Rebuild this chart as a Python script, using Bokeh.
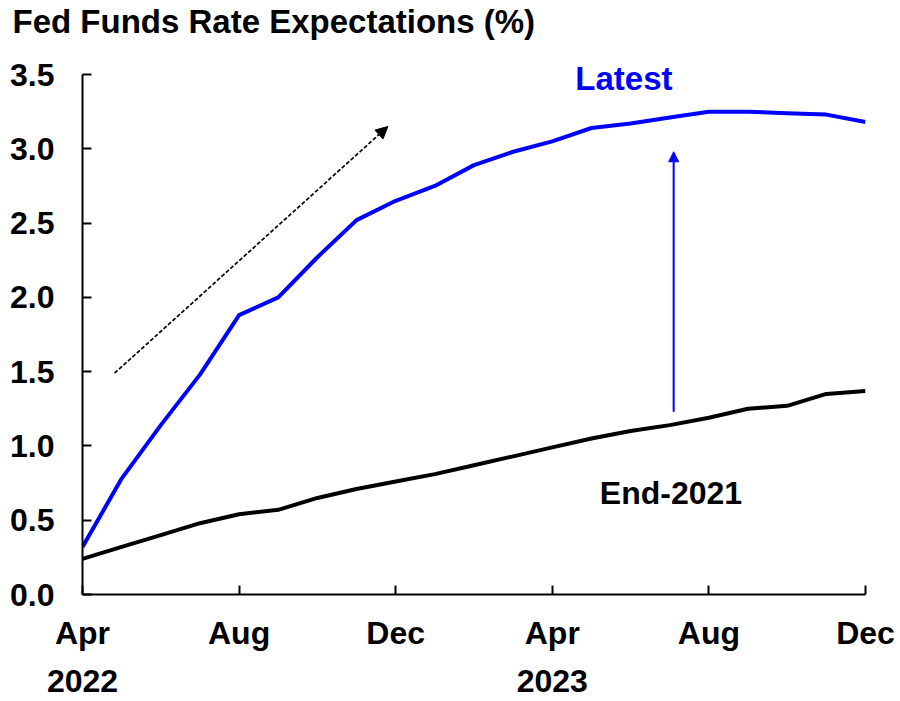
from bokeh.plotting import figure
from bokeh.models import Range1d, LinearAxis, FixedTicker, Label, Arrow, NormalHead
from bokeh.embed import file_html
from bokeh.resources import INLINE

# ---- data ----
months = ["Apr 2022", "May 2022", "Jun 2022", "Jul 2022", "Aug 2022", "Sep 2022", "Oct 2022",
          "Nov 2022", "Dec 2022", "Jan 2023", "Feb 2023", "Mar 2023", "Apr 2023", "May 2023",
          "Jun 2023", "Jul 2023", "Aug 2023", "Sep 2023", "Oct 2023", "Nov 2023", "Dec 2023"]
latest = [0.32, 0.78, 1.14, 1.48, 1.88, 2.00, 2.27, 2.52, 2.65, 2.75, 2.89, 2.98, 3.05, 3.14,
          3.17, 3.21, 3.25, 3.25, 3.24, 3.23, 3.18]
end2021 = [0.24, 0.32, 0.40, 0.48, 0.54, 0.57, 0.65, 0.71, 0.76, 0.81, 0.87, 0.93, 0.99, 1.05,
           1.10, 1.14, 1.19, 1.25, 1.27, 1.35, 1.37]
month_ticks = [0, 4, 8, 12, 16, 20]
month_labels = ["Apr", "Aug", "Dec", "Apr", "Aug", "Dec"]
year_ticks = [0, 12]
year_labels = ["2022", "2023"]
y_ticks = [0.0, 0.5, 1.0, 1.5, 2.0, 2.5, 3.0, 3.5]
title_text = "Fed Funds Rate Expectations (%)"
# annotation anchors (data units)
dash_arrow = (0.82, 1.49, 7.8, 3.15)
blue_arrow = (15.1, 1.23, 15.1, 2.98)
latest_label = (13.83, 3.47, "Latest")
end_label = (15.03, 0.68, "End-2021")

FONT = "Liberation Sans"
x = list(range(len(months)))

p = figure(frame_width=783, frame_height=551, output_backend="svg", toolbar_location=None,
           x_range=Range1d(0, 20), y_range=Range1d(0, 3.7087),
           min_border_left=82, min_border_right=31, min_border_top=43, min_border_bottom=105)
p.outline_line_color = None
p.xgrid.visible = False
p.ygrid.visible = False

p.title.text = title_text
p.title.text_font = FONT
p.title.text_font_size = "33px"
p.title.text_font_style = "bold"
p.title.text_color = "black"
p.title.offset = -70
p.title.vertical_align = "top"
p.title.standoff = 4

p.line(x, latest, line_color="#0000FF", line_width=4)
p.line(x, end2021, line_color="black", line_width=4)

# axes
p.xaxis.ticker = FixedTicker(ticks=month_ticks)
p.xaxis.major_label_overrides = {t: l for t, l in zip(month_ticks, month_labels)}
p.yaxis.ticker = FixedTicker(ticks=y_ticks)
p.yaxis.major_label_overrides = {t: f"{t:.1f}" for t in y_ticks}
p.yaxis.bounds = (0, 3.5)
for ax in (p.xaxis[0], p.yaxis[0]):
    ax.axis_line_width = 2
    ax.axis_line_color = "black"
    ax.major_tick_line_width = 2
    ax.major_tick_line_color = "black"
    ax.major_tick_in = 9
    ax.major_tick_out = 0
    ax.minor_tick_line_color = None
    ax.major_label_text_font = FONT
    ax.major_label_text_font_size = "32px"
    ax.major_label_text_font_style = "bold"
    ax.major_label_text_color = "black"
p.yaxis.major_label_standoff = 28
p.xaxis.major_label_standoff = 20

yax = LinearAxis(ticker=FixedTicker(ticks=year_ticks),
                 major_label_overrides={t: l for t, l in zip(year_ticks, year_labels)})
yax.axis_line_color = None
yax.major_tick_line_color = None
yax.minor_tick_line_color = None
yax.major_label_text_font = FONT
yax.major_label_text_font_size = "32px"
yax.major_label_text_font_style = "bold"
yax.major_label_text_color = "black"
yax.major_label_standoff = 10
p.add_layout(yax, "below")

p.add_layout(Arrow(x_start=dash_arrow[0], y_start=dash_arrow[1], x_end=dash_arrow[2], y_end=dash_arrow[3],
                   line_color="black", line_width=1.7, line_dash="4 2",
                   end=NormalHead(size=12, fill_color="black", line_color="black", line_width=1)))
p.add_layout(Arrow(x_start=blue_arrow[0], y_start=blue_arrow[1], x_end=blue_arrow[2], y_end=blue_arrow[3],
                   line_color="#0000FF", line_width=2,
                   end=NormalHead(size=10, fill_color="#0000FF", line_color="#0000FF", line_width=1)))

p.add_layout(Label(x=latest_label[0], y=latest_label[1], text=latest_label[2], text_align="center",
                   text_baseline="middle", text_font=FONT, text_font_size="33px",
                   text_font_style="bold", text_color="#0000FF"))
p.add_layout(Label(x=end_label[0], y=end_label[1], text=end_label[2], text_align="center",
                   text_baseline="middle", text_font=FONT, text_font_size="32px",
                   text_font_style="bold", text_color="black"))

open("out.html", "w").write(file_html(p, INLINE))
